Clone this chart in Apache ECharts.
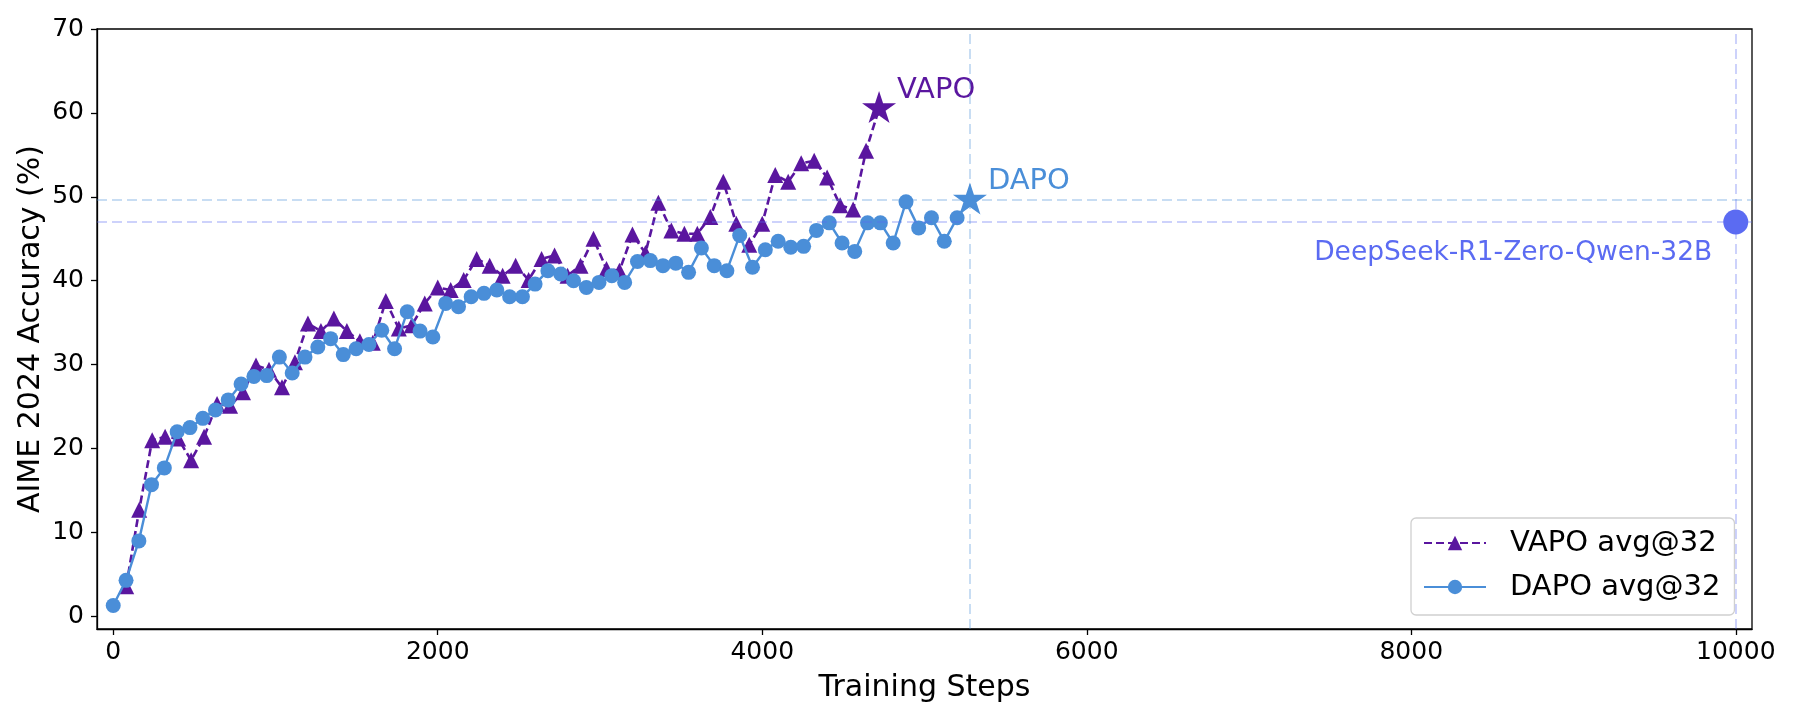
<!DOCTYPE html>
<html>
<head>
<meta charset="utf-8">
<script src="https://cdn.jsdelivr.net/npm/echarts@6/dist/echarts.min.js"></script>
<style>
html,body{margin:0;padding:0;background:#fff;}
#chart{width:1800px;height:720px;}
</style>
</head>
<body>
<div id="chart"></div>
<script>
// ---- data ----
const dapoSteps = [0,79,158,236,315,394,473,552,630,709,788,867,946,1024,1103,1182,1261,1340,1418,1497,1576,1655,1734,1812,1891,1970,2049,2128,2206,2285,2364,2443,2522,2600,2679,2758,2837,2916,2994,3073,3152,3231,3310,3388,3467,3546,3625,3704,3782,3861,3940,4019,4098,4176,4255,4334,4413,4492,4570,4649,4728,4807,4886,4964,5043,5122,5201];
const dapoAcc = [1.3,4.3,9.0,15.7,17.7,22.0,22.5,23.6,24.6,25.8,27.7,28.6,28.7,30.9,29.0,30.9,32.1,33.1,31.2,31.9,32.4,34.1,31.9,36.3,34.0,33.3,37.3,36.9,38.1,38.5,38.9,38.1,38.1,39.6,41.2,40.8,40.0,39.2,39.8,40.6,39.8,42.3,42.4,41.8,42.1,41.0,43.9,41.8,41.2,45.4,41.6,43.7,44.7,44.0,44.1,46.0,46.9,44.5,43.5,46.9,46.9,44.5,49.4,46.3,47.5,44.7,47.5];
const vapoSteps = [80,160,240,320,400,480,560,640,720,800,880,960,1040,1120,1200,1280,1360,1440,1520,1600,1680,1760,1840,1920,2000,2080,2160,2240,2320,2400,2480,2560,2640,2720,2800,2880,2960,3040,3120,3200,3280,3360,3440,3520,3600,3680,3760,3840,3920,4000,4080,4160,4240,4320,4400,4480,4560,4640];
const vapoAcc = [3.6,12.7,21.0,21.4,21.2,18.6,21.4,25.3,25.1,26.7,29.9,29.4,27.3,30.3,34.9,34.0,35.5,34.0,32.8,32.6,37.6,34.3,34.7,37.3,39.2,38.9,40.1,42.6,41.8,40.6,41.8,40.1,42.6,43.0,40.6,41.8,45.0,41.4,41.2,45.5,43.3,49.3,46.0,45.6,45.6,47.6,51.8,46.8,44.3,46.8,52.6,51.8,54.0,54.3,52.3,49.0,48.5,55.5];
const vapoBestStep = 4720, vapoBest = 60.5;
const dapoBestStep = 5280, dapoBest = 49.6;
const deepseekStep = 10000, deepseekAcc = 47.0;
const xTicks = [0,2000,4000,6000,8000,10000];
const yTicks = [0,10,20,30,40,50,60,70];
const seriesNames = ['VAPO avg@32','DAPO avg@32'];
const labelVapo = 'VAPO', labelDapo = 'DAPO', labelDeepseek = 'DeepSeek-R1-Zero-Qwen-32B';
const xTitle = 'Training Steps', yTitle = 'AIME 2024 Accuracy (%)';

// ---- styling ----
const FONT = 'DejaVu Sans';
const cVapo = '#5a169f', cDapo = '#4a8ed8', cDeep = '#5b6bf2';
const lineBlue = 'rgba(74,142,216,0.3)', lineLav = 'rgba(91,107,242,0.3)';
const star = 'path://M0,-100 L22.45,-30.9 L95.1,-30.9 L36.33,11.8 L58.78,80.9 L0,38.2 L-58.78,80.9 L-36.33,11.8 L-95.1,-30.9 L-22.45,-30.9 Z';

const vapoData = vapoSteps.map((s,i)=>[s, vapoAcc[i]]);
vapoData.push({value:[vapoBestStep, vapoBest], symbol: star, symbolSize:[34,32], symbolOffset:[0,-1.7],
  label:{show:true, formatter: labelVapo, position:'right', distance:1, offset:[0,-17], color:cVapo, fontSize:29, fontFamily:FONT}});
const dapoData = dapoSteps.map((s,i)=>[s, dapoAcc[i]]);
dapoData.push({value:[dapoBestStep, dapoBest], symbol: star, symbolSize:[34,32], symbolOffset:[0,-1.7],
  label:{show:true, formatter: labelDapo, position:'right', distance:1, offset:[0,-17], color:cDapo, fontSize:29, fontFamily:FONT}});

const chart = echarts.init(document.getElementById('chart'), null, {renderer:'canvas'});
chart.setOption({
  animation:false,
  backgroundColor:'#fff',
  grid:{left:97, right:48, top:29, bottom:91, show:true, borderColor:'#000', borderWidth:1.3, backgroundColor:'transparent'},
  legend:{
    data: seriesNames, orient:'vertical', left:1411, top:518,
    backgroundColor:'#fff', borderColor:'#d0d0d0', borderWidth:1.3, borderRadius:5,
    padding:[10,14,13,12], itemWidth:62, itemHeight:18, itemGap:14,
    textStyle:{fontSize:29, lineHeight:30, color:'#000', fontFamily:FONT, padding:[0,0,0,19]}
  },
  xAxis:{
    type:'value', min:-100, max:10100,
    name:xTitle, nameLocation:'middle', nameGap:44, nameMoveOverlap:false,
    nameTextStyle:{fontSize:30, color:'#000', fontFamily:FONT},
    axisLine:{show:true, onZero:false, lineStyle:{color:'#000', width:1.3}},
    axisTick:{show:true, length:6, customValues:xTicks, lineStyle:{color:'#000', width:1.3}},
    axisLabel:{customValues:xTicks, formatter:(v)=>String(v), fontSize:25, color:'#000', margin:11, fontFamily:FONT},
    splitLine:{show:false}
  },
  yAxis:{
    type:'value', min:-1.5, max:70,
    name:yTitle, nameLocation:'middle', nameGap:51, nameRotate:90, nameMoveOverlap:false,
    nameTextStyle:{fontSize:30, color:'#000', fontFamily:FONT},
    axisLine:{show:true, onZero:false, lineStyle:{color:'#000', width:1.3}},
    axisTick:{show:true, length:6, customValues:yTicks, lineStyle:{color:'#000', width:1.3}},
    axisLabel:{customValues:yTicks, formatter:(v)=>String(v), fontSize:25, color:'#000', margin:13, fontFamily:FONT},
    splitLine:{show:false}
  },
  series:[
    {
      type:'line', name:'refs', data:[[deepseekStep, deepseekAcc]], symbol:'none', lineStyle:{opacity:0}, z:1, silent:true,
      markLine:{
        silent:true, symbol:['none','none'], label:{show:false},
        lineStyle:{type:[10,5], width:2},
        data:[
          {yAxis:dapoBest, lineStyle:{color:lineBlue, type:[10,5], width:2}},
          {yAxis:deepseekAcc, lineStyle:{color:lineLav, type:[10,5], width:2}},
          {xAxis:dapoBestStep, lineStyle:{color:lineBlue, type:[10,5], width:2}},
          {xAxis:deepseekStep, lineStyle:{color:lineLav, type:[10,5], width:2}}
        ]
      }
    },
    {
      type:'line', name:seriesNames[0], data:vapoData, z:3,
      symbol:'triangle', symbolSize:16,
      itemStyle:{color:cVapo}, lineStyle:{color:cVapo, width:2.6, type:[8,4]}
    },
    {
      type:'line', name:seriesNames[1], data:dapoData, z:4,
      symbol:'circle', symbolSize:15,
      itemStyle:{color:cDapo}, lineStyle:{color:cDapo, width:2.4}
    },
    {
      type:'scatter', name:'deepseek', data:[{value:[deepseekStep, deepseekAcc],
        label:{show:true, formatter:labelDeepseek, position:'left', distance:11, offset:[0,31], color:cDeep, fontSize:26.5, fontFamily:FONT}}],
      symbol:'circle', symbolSize:25, itemStyle:{color:cDeep, opacity:1}, z:5
    }
  ]
});
</script>
</body>
</html>
